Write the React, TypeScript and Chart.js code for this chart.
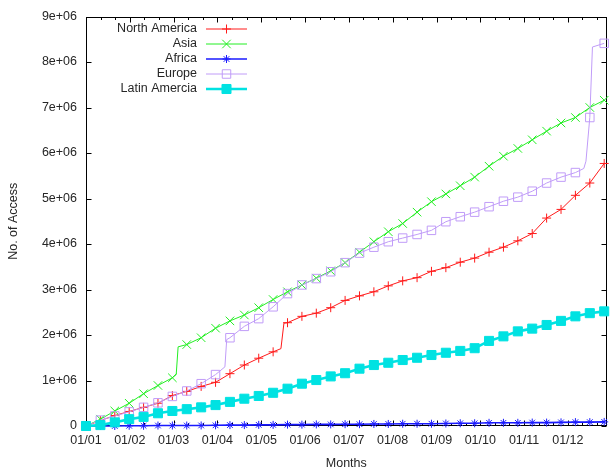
import React, { useEffect, useRef } from "react";
import { Chart, registerables } from "chart.js";
import { drawPoint } from "chart.js/helpers";

Chart.register(...registerables);

// Sample dates (days since 2001-01-01) at which the series were read
const DAYS = [
  0, 120, 240, 360, 480, 600, 720, 840, 960, 1080, 1200, 1320, 1440, 1560, 1680,
  1800, 1920, 2040, 2160, 2280, 2400, 2520, 2640, 2760, 2880, 3000, 3120, 3240,
  3360, 3480, 3600, 3720, 3840, 3960, 4080, 4200, 4320,
];

// Year ticks (days since 2001-01-01) and their labels
const YEAR_TICK_DAYS = [0, 365, 730, 1095, 1461, 1826, 2191, 2556, 2922, 3287, 3652, 4017];
const YEAR_TICK_LABELS = ["01/01", "01/02", "01/03", "01/04", "01/05", "01/06", "01/07", "01/08", "01/09", "01/10", "01/11", "01/12"];
const X_MAX_DAYS = 4340;

const Y_TICKS = [0, 1e6, 2e6, 3e6, 4e6, 5e6, 6e6, 7e6, 8e6, 9e6];
const Y_TICK_LABELS = ["0", "1e+06", "2e+06", "3e+06", "4e+06", "5e+06", "6e+06", "7e+06", "8e+06", "9e+06"];

// Values in millions of accesses, one per DAYS entry
const NORTH_AMERICA = [0, 0.12, 0.23, 0.32, 0.41, 0.5, 0.67, 0.76, 0.87, 0.96, 1.15, 1.34, 1.49, 1.63, 2.27, 2.41, 2.48, 2.6, 2.76, 2.86, 2.95, 3.08, 3.19, 3.26, 3.4, 3.48, 3.6, 3.69, 3.82, 3.93, 4.07, 4.23, 4.57, 4.76, 5.07, 5.34, 5.77];
const ASIA = [0, 0.15, 0.33, 0.5, 0.71, 0.89, 1.06, 1.79, 1.94, 2.15, 2.31, 2.44, 2.6, 2.78, 2.95, 3.1, 3.25, 3.41, 3.59, 3.82, 4.05, 4.27, 4.45, 4.7, 4.93, 5.1, 5.28, 5.47, 5.71, 5.93, 6.1, 6.29, 6.48, 6.66, 6.78, 7.0, 7.16];
const AFRICA = [0, 0, 0, 0.005, 0.005, 0.01, 0.01, 0.01, 0.012, 0.015, 0.02, 0.02, 0.025, 0.025, 0.03, 0.03, 0.035, 0.035, 0.04, 0.04, 0.045, 0.045, 0.05, 0.05, 0.05, 0.055, 0.06, 0.06, 0.07, 0.07, 0.07, 0.075, 0.075, 0.08, 0.085, 0.085, 0.09];
const EUROPE = [0, 0.13, 0.22, 0.31, 0.41, 0.51, 0.65, 0.77, 0.93, 1.13, 1.94, 2.19, 2.36, 2.62, 2.91, 3.1, 3.24, 3.39, 3.59, 3.8, 3.93, 4.05, 4.13, 4.21, 4.3, 4.49, 4.6, 4.7, 4.82, 4.94, 5.03, 5.16, 5.34, 5.47, 5.57, 6.78, 8.41];
const LATIN_AMERICA = [0, 0.02, 0.08, 0.15, 0.2, 0.28, 0.33, 0.37, 0.41, 0.46, 0.53, 0.6, 0.66, 0.73, 0.82, 0.93, 1.01, 1.09, 1.16, 1.26, 1.34, 1.39, 1.45, 1.5, 1.56, 1.61, 1.65, 1.71, 1.87, 1.97, 2.08, 2.14, 2.22, 2.31, 2.41, 2.48, 2.52];

// Extra readings (no marker) around the sudden jumps
const NORTH_AMERICA_JUMP_DAYS = [1625, 1650];
const NORTH_AMERICA_JUMP = [1.7, 2.26];
const ASIA_JUMP_DAYS = [752, 768];
const ASIA_JUMP = [1.13, 1.74];
const EUROPE_JUMP_DAYS = [1158, 1173, 4150, 4168, 4222];
const EUROPE_JUMP = [1.3, 1.9, 5.66, 5.82, 8.33];

type Pt = { x: number; y: number; m: boolean };

function build(vals: number[], jumpDays: number[] = [], jumpVals: number[] = []): Pt[] {
  const pts: Pt[] = DAYS.map((d, i) => ({ x: d, y: vals[i] * 1e6, m: true }));
  jumpDays.forEach((d, i) => pts.push({ x: d, y: jumpVals[i] * 1e6, m: false }));
  return pts.sort((a, b) => a.x - b.x);
}

const FONT_FAMILY = "'Liberation Sans', Arial, Helvetica, sans-serif";
const TEXT = "#262626";

const SERIES = [
  { label: "North America", data: build(NORTH_AMERICA, NORTH_AMERICA_JUMP_DAYS, NORTH_AMERICA_JUMP), color: "#ff1a1a", style: "cross", r: 4.5, lw: 1, fill: "transparent" },
  { label: "Asia", data: build(ASIA, ASIA_JUMP_DAYS, ASIA_JUMP), color: "#22ee22", style: "crossRot", r: 6, lw: 1, fill: "transparent" },
  { label: "Africa", data: build(AFRICA), color: "#1a1aff", style: "star", r: 4, lw: 1.6, fill: "transparent" },
  { label: "Europe", data: build(EUROPE, EUROPE_JUMP_DAYS, EUROPE_JUMP), color: "#c09cf8", style: "rect", r: 6, lw: 1, fill: "transparent" },
  { label: "Latin Amercia", data: build(LATIN_AMERICA), color: "#00e2e2", style: "rect", r: 6.4, lw: 2.6, fill: "#00e2e2" },
];

const framePlugin = {
  id: "gnuFrame",
  beforeDatasetsDraw(chart: any) {
    const { ctx, chartArea: a } = chart;
    const xs = chart.scales.x;
    const ys = chart.scales.y;
    const L = Math.round(a.left) + 0.5;
    const R = Math.round(a.right) - 0.5;
    const T = Math.round(a.top) + 0.5;
    const B = Math.round(a.bottom) - 0.5;
    ctx.save();
    ctx.strokeStyle = "#000";
    ctx.lineWidth = 1;
    ctx.strokeRect(L, T, R - L, B - T);
    ctx.beginPath();
    Y_TICKS.forEach((v) => {
      const py = Math.round(ys.getPixelForValue(v)) + 0.5;
      ctx.moveTo(L, py); ctx.lineTo(L + 5, py);
      ctx.moveTo(R, py); ctx.lineTo(R - 5, py);
    });
    YEAR_TICK_DAYS.forEach((d, i) => {
      const px = Math.round(xs.getPixelForValue(d)) + 0.5;
      ctx.moveTo(px, B); ctx.lineTo(px, B - 5);
      ctx.moveTo(px, T); ctx.lineTo(px, T + 5);
      const next = i + 1 < YEAR_TICK_DAYS.length ? YEAR_TICK_DAYS[i + 1] : d + 365;
      for (let k = 1; k <= 2; k++) {
        const md = d + ((next - d) * k) / 3;
        if (md >= X_MAX_DAYS) continue;
        const mx = Math.round(xs.getPixelForValue(md)) + 0.5;
        ctx.moveTo(mx, B); ctx.lineTo(mx, B - 2.5);
        ctx.moveTo(mx, T); ctx.lineTo(mx, T + 2.5);
      }
    });
    ctx.stroke();
    ctx.restore();
  },
};

const legendPlugin = {
  id: "gnuLegend",
  afterDatasetsDraw(chart: any) {
    const { ctx, chartArea: a } = chart;
    ctx.save();
    ctx.font = `12.5px ${FONT_FAMILY}`;
    ctx.textAlign = "right";
    ctx.textBaseline = "middle";
    SERIES.forEach((s, i) => {
      const yy = a.top + 12.5 + i * 15;
      ctx.fillStyle = TEXT;
      ctx.fillText(s.label, a.left + 111, yy);
      ctx.strokeStyle = s.color;
      ctx.lineWidth = s.lw;
      ctx.beginPath();
      ctx.moveTo(a.left + 120, yy);
      ctx.lineTo(a.left + 161, yy);
      ctx.stroke();
      ctx.fillStyle = s.fill;
      ctx.lineWidth = 1;
      drawPoint(ctx, { pointStyle: s.style as any, radius: s.r, rotation: 0, borderWidth: 1 } as any, a.left + 140.5, yy);
    });
    ctx.restore();
  },
};

export default function App() {
  const ref = useRef<HTMLCanvasElement | null>(null);

  useEffect(() => {
    if (!ref.current) return;
    const chart = new Chart(ref.current, {
      type: "line",
      data: {
        datasets: SERIES.map((s, i) => ({
          label: s.label,
          data: s.data as any,
          borderColor: s.color,
          backgroundColor: s.fill,
          borderWidth: s.lw,
          pointStyle: s.style as any,
          pointBorderColor: s.color,
          pointBackgroundColor: s.fill,
          pointBorderWidth: 1,
          pointRadius: (ctx: any) => (ctx.raw && ctx.raw.m ? s.r : 0),
          pointHoverRadius: (ctx: any) => (ctx.raw && ctx.raw.m ? s.r : 0),
          tension: 0,
          fill: false,
          clip: false as any,
          order: SERIES.length - i,
        })),
      },
      options: {
        responsive: false,
        animation: false,
        events: [],
        layout: { padding: { top: 11, right: 2, left: 0, bottom: 0 } },
        plugins: { legend: { display: false }, tooltip: { enabled: false } },
        scales: {
          x: {
            type: "linear",
            min: 0,
            max: X_MAX_DAYS,
            afterBuildTicks: (scale: any) => {
              scale.ticks = YEAR_TICK_DAYS.map((v) => ({ value: v }));
            },
            afterFit: (scale: any) => {
              scale.height = 48;
            },
            grid: { display: false, drawTicks: false },
            border: { display: false },
            ticks: {
              padding: 7,
              maxRotation: 0,
              autoSkip: false,
              color: TEXT,
              font: { family: FONT_FAMILY, size: 12.5 },
              callback: (v: any) => {
                const i = YEAR_TICK_DAYS.indexOf(Number(v));
                return i >= 0 ? YEAR_TICK_LABELS[i] : "";
              },
            },
            title: {
              display: true,
              text: "Months",
              color: TEXT,
              font: { family: FONT_FAMILY, size: 12.5 },
              padding: { top: 0, bottom: 3 },
            },
          },
          y: {
            min: 0,
            max: 9e6,
            afterBuildTicks: (scale: any) => {
              scale.ticks = Y_TICKS.map((v) => ({ value: v }));
            },
            afterFit: (scale: any) => {
              scale.width = 86;
            },
            grid: { display: false, drawTicks: false },
            border: { display: false },
            ticks: {
              padding: 9,
              color: TEXT,
              font: { family: FONT_FAMILY, size: 12.5 },
              callback: (v: any) => {
                const i = Y_TICKS.indexOf(Number(v));
                return i >= 0 ? Y_TICK_LABELS[i] : "";
              },
            },
            title: {
              display: true,
              text: "No. of Access",
              color: TEXT,
              font: { family: FONT_FAMILY, size: 12.5 },
              padding: { top: 6, bottom: 0 },
            },
          },
        },
      },
      plugins: [framePlugin, legendPlugin],
    });
    return () => chart.destroy();
  }, []);

  return (
    <div style={{ position: "fixed", left: 0, top: 0, width: 614, height: 474, background: "#fff" }}>
      <canvas ref={ref} width={614} height={474} style={{ display: "block" }} />
    </div>
  );
}
